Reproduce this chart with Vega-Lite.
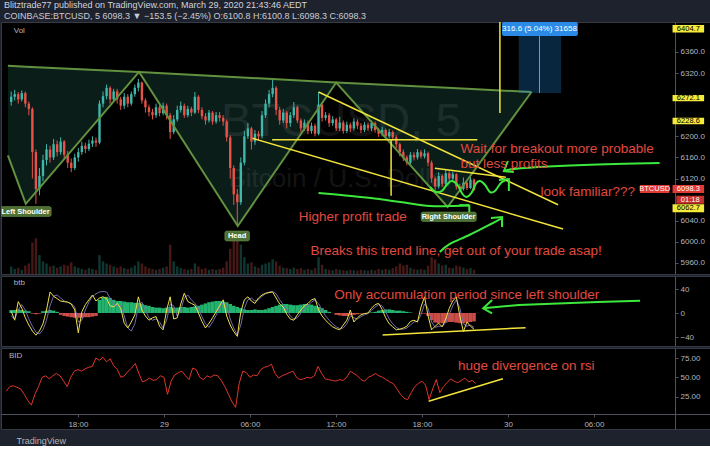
{
  "$schema": "https://vega.github.io/schema/vega-lite/v6.json",
  "background": "#1e222d",
  "padding": {"left": 0, "top": 0, "right": 0, "bottom": 0},
  "spacing": 0,
  "title": {
    "text": "Blitztrade77 published on TradingView.com, March 29, 2020 21:43:46 AEDT",
    "subtitle": "COINBASE:BTCUSD, 5  6098.3 ▼ −153.5 (−2.45%)  O:6100.8  H:6100.8  L:6098.3  C:6098.3",
    "anchor": "start", "frame": "group", "fontSize": 9, "fontWeight": "normal", "color": "#d1d4dc",
    "subtitleFontSize": 9, "subtitleColor": "#c9ccd4", "subtitlePadding": 2, "offset": 0, "dx": 3,
    "font": "Liberation Sans", "subtitleFont": "Liberation Sans"
  },
  "config": {
    "font": "Liberation Sans",
    "view": {"fill": "#000000", "stroke": "#363a45", "strokeWidth": 1},
    "axisY": {"orient": "right", "offset": -36, "zindex": 0, "title": null, "grid": false, "labelColor": "#b2b5be", "labelFontSize": 8, "labelPadding": 2, "tickSize": 3, "tickColor": "#50535e", "domainColor": "#50535e"}
  },
  "datasets": {
    "bars": [
      {"t":"2020-03-28T13:00Z","o":6265,"c":6275,"h":6285,"l":6258,"v":18,"f":3,"s":-5,"g":5,"r":32},
      {"t":"2020-03-28T13:15Z","o":6275,"c":6280,"h":6288,"l":6268,"v":12,"f":-12,"s":-10,"g":5,"r":38},
      {"t":"2020-03-28T13:30Z","o":6280,"c":6270,"h":6284,"l":6262,"v":15,"f":19,"s":5,"g":6,"r":39},
      {"t":"2020-03-28T13:45Z","o":6270,"c":6282,"h":6287,"l":6266,"v":10,"f":8,"s":14,"g":5,"r":37},
      {"t":"2020-03-28T14:00Z","o":6282,"c":6262,"h":6285,"l":6255,"v":20,"f":-8,"s":5,"g":4,"r":35},
      {"t":"2020-03-28T14:15Z","o":6262,"c":6252,"h":6266,"l":6240,"v":25,"f":-20,"s":-10,"g":3,"r":28},
      {"t":"2020-03-28T14:30Z","o":6252,"c":6170,"h":6255,"l":6120,"v":75,"f":-30,"s":-22,"g":-1,"r":20},
      {"t":"2020-03-28T14:45Z","o":6170,"c":6100,"h":6175,"l":6072,"v":85,"f":-37,"s":-32,"g":-2,"r":14},
      {"t":"2020-03-28T15:00Z","o":6100,"c":6125,"h":6140,"l":6088,"v":45,"f":-30,"s":-35,"g":-1,"r":28},
      {"t":"2020-03-28T15:15Z","o":6125,"c":6155,"h":6165,"l":6115,"v":30,"f":-18,"s":-28,"g":3,"r":38},
      {"t":"2020-03-28T15:30Z","o":6155,"c":6175,"h":6185,"l":6145,"v":25,"f":5,"s":-12,"g":4,"r":50},
      {"t":"2020-03-28T15:45Z","o":6175,"c":6160,"h":6182,"l":6150,"v":18,"f":35,"s":12,"g":5,"r":52},
      {"t":"2020-03-28T16:00Z","o":6160,"c":6185,"h":6195,"l":6155,"v":20,"f":28,"s":28,"g":4,"r":48},
      {"t":"2020-03-28T16:15Z","o":6185,"c":6170,"h":6192,"l":6162,"v":15,"f":24,"s":30,"g":2,"r":52},
      {"t":"2020-03-28T16:30Z","o":6170,"c":6190,"h":6198,"l":6165,"v":18,"f":20,"s":25,"g":-3,"r":55},
      {"t":"2020-03-28T16:45Z","o":6190,"c":6165,"h":6193,"l":6158,"v":22,"f":19,"s":20,"g":-5,"r":52},
      {"t":"2020-03-28T17:00Z","o":6165,"c":6150,"h":6172,"l":6140,"v":20,"f":18,"s":18,"g":-6,"r":45},
      {"t":"2020-03-28T17:15Z","o":6150,"c":6140,"h":6158,"l":6132,"v":28,"f":15,"s":16,"g":-7,"r":38},
      {"t":"2020-03-28T17:30Z","o":6140,"c":6160,"h":6167,"l":6136,"v":18,"f":5,"s":10,"g":-8,"r":50},
      {"t":"2020-03-28T17:45Z","o":6160,"c":6170,"h":6178,"l":6152,"v":15,"f":-33,"s":-15,"g":-8,"r":58},
      {"t":"2020-03-28T18:00Z","o":6170,"c":6182,"h":6190,"l":6165,"v":12,"f":2,"s":-12,"g":-8,"r":60},
      {"t":"2020-03-28T18:15Z","o":6182,"c":6176,"h":6188,"l":6168,"v":10,"f":14,"s":5,"g":-7,"r":58},
      {"t":"2020-03-28T18:30Z","o":6176,"c":6186,"h":6194,"l":6172,"v":14,"f":22,"s":18,"g":-7,"r":61},
      {"t":"2020-03-28T18:45Z","o":6186,"c":6192,"h":6200,"l":6180,"v":12,"f":30,"s":28,"g":-6,"r":63},
      {"t":"2020-03-28T19:00Z","o":6192,"c":6188,"h":6198,"l":6180,"v":10,"f":20,"s":32,"g":-5,"r":64},
      {"t":"2020-03-28T19:15Z","o":6188,"c":6262,"h":6268,"l":6185,"v":45,"f":25,"s":35,"g":22,"r":75},
      {"t":"2020-03-28T19:30Z","o":6262,"c":6276,"h":6285,"l":6255,"v":30,"f":27,"s":36,"g":26,"r":72},
      {"t":"2020-03-28T19:45Z","o":6276,"c":6292,"h":6298,"l":6270,"v":25,"f":24,"s":35,"g":27,"r":76},
      {"t":"2020-03-28T20:00Z","o":6292,"c":6270,"h":6295,"l":6262,"v":22,"f":12,"s":25,"g":25,"r":70},
      {"t":"2020-03-28T20:15Z","o":6270,"c":6285,"h":6290,"l":6265,"v":18,"f":10,"s":15,"g":22,"r":74},
      {"t":"2020-03-28T20:30Z","o":6285,"c":6270,"h":6290,"l":6262,"v":15,"f":16,"s":12,"g":20,"r":65},
      {"t":"2020-03-28T20:45Z","o":6270,"c":6258,"h":6275,"l":6250,"v":18,"f":8,"s":12,"g":20,"r":60},
      {"t":"2020-03-28T21:00Z","o":6258,"c":6275,"h":6282,"l":6252,"v":14,"f":-17,"s":-5,"g":19,"r":50},
      {"t":"2020-03-28T21:15Z","o":6275,"c":6262,"h":6280,"l":6255,"v":12,"f":-25,"s":-25,"g":18,"r":52},
      {"t":"2020-03-28T21:30Z","o":6262,"c":6280,"h":6285,"l":6258,"v":15,"f":-15,"s":-30,"g":18,"r":58},
      {"t":"2020-03-28T21:45Z","o":6280,"c":6292,"h":6298,"l":6275,"v":20,"f":-3,"s":-18,"g":17,"r":62},
      {"t":"2020-03-28T22:00Z","o":6292,"c":6302,"h":6309,"l":6285,"v":30,"f":27,"s":10,"g":17,"r":68},
      {"t":"2020-03-28T22:15Z","o":6302,"c":6268,"h":6304,"l":6262,"v":25,"f":5,"s":18,"g":15,"r":55},
      {"t":"2020-03-28T22:30Z","o":6268,"c":6255,"h":6272,"l":6245,"v":18,"f":-5,"s":5,"g":13,"r":44},
      {"t":"2020-03-28T22:45Z","o":6255,"c":6246,"h":6260,"l":6238,"v":14,"f":-12,"s":-8,"g":12,"r":46},
      {"t":"2020-03-28T23:00Z","o":6246,"c":6240,"h":6252,"l":6232,"v":12,"f":-8,"s":-12,"g":10,"r":49},
      {"t":"2020-03-28T23:15Z","o":6240,"c":6255,"h":6262,"l":6235,"v":10,"f":-6,"s":-10,"g":9,"r":46},
      {"t":"2020-03-28T23:30Z","o":6255,"c":6244,"h":6260,"l":6238,"v":12,"f":-22,"s":-15,"g":9,"r":47},
      {"t":"2020-03-28T23:45Z","o":6244,"c":6258,"h":6264,"l":6240,"v":15,"f":-28,"s":-25,"g":8,"r":52},
      {"t":"2020-03-29T00:00Z","o":6258,"c":6240,"h":6262,"l":6232,"v":18,"f":5,"s":-12,"g":9,"r":50},
      {"t":"2020-03-29T00:15Z","o":6240,"c":6208,"h":6244,"l":6195,"v":70,"f":27,"s":15,"g":10,"r":28},
      {"t":"2020-03-29T00:30Z","o":6208,"c":6232,"h":6240,"l":6204,"v":30,"f":-10,"s":12,"g":9,"r":45},
      {"t":"2020-03-29T00:45Z","o":6232,"c":6250,"h":6258,"l":6228,"v":18,"f":-8,"s":-5,"g":9,"r":53},
      {"t":"2020-03-29T01:00Z","o":6250,"c":6258,"h":6266,"l":6245,"v":14,"f":15,"s":5,"g":10,"r":56},
      {"t":"2020-03-29T01:15Z","o":6258,"c":6240,"h":6262,"l":6235,"v":12,"f":33,"s":25,"g":10,"r":58},
      {"t":"2020-03-29T01:30Z","o":6240,"c":6252,"h":6258,"l":6236,"v":10,"f":19,"s":30,"g":9,"r":52},
      {"t":"2020-03-29T01:45Z","o":6252,"c":6245,"h":6256,"l":6238,"v":12,"f":16,"s":22,"g":10,"r":47},
      {"t":"2020-03-29T02:00Z","o":6245,"c":6275,"h":6284,"l":6242,"v":25,"f":13,"s":16,"g":11,"r":62},
      {"t":"2020-03-29T02:15Z","o":6275,"c":6250,"h":6278,"l":6244,"v":18,"f":0,"s":8,"g":12,"r":60},
      {"t":"2020-03-29T02:30Z","o":6250,"c":6238,"h":6255,"l":6232,"v":12,"f":-14,"s":-6,"g":14,"r":50},
      {"t":"2020-03-29T02:45Z","o":6238,"c":6230,"h":6244,"l":6222,"v":14,"f":-25,"s":-18,"g":16,"r":47},
      {"t":"2020-03-29T03:00Z","o":6230,"c":6245,"h":6250,"l":6226,"v":10,"f":-17,"s":-24,"g":18,"r":52},
      {"t":"2020-03-29T03:15Z","o":6245,"c":6228,"h":6248,"l":6222,"v":12,"f":-8,"s":-15,"g":19,"r":50},
      {"t":"2020-03-29T03:30Z","o":6228,"c":6240,"h":6246,"l":6224,"v":10,"f":2,"s":-4,"g":20,"r":53},
      {"t":"2020-03-29T03:45Z","o":6240,"c":6235,"h":6246,"l":6228,"v":12,"f":12,"s":8,"g":20,"r":52},
      {"t":"2020-03-29T04:00Z","o":6235,"c":6228,"h":6240,"l":6220,"v":15,"f":22,"s":18,"g":19,"r":46},
      {"t":"2020-03-29T04:15Z","o":6228,"c":6198,"h":6232,"l":6190,"v":30,"f":-5,"s":12,"g":18,"r":38},
      {"t":"2020-03-29T04:30Z","o":6198,"c":6140,"h":6202,"l":6120,"v":60,"f":-20,"s":-10,"g":15,"r":28},
      {"t":"2020-03-29T04:45Z","o":6140,"c":6090,"h":6145,"l":6070,"v":90,"f":-31,"s":-25,"g":12,"r":18},
      {"t":"2020-03-29T05:00Z","o":6090,"c":6075,"h":6100,"l":6030,"v":100,"f":-39,"s":-37,"g":10,"r":11},
      {"t":"2020-03-29T05:15Z","o":6075,"c":6150,"h":6160,"l":6070,"v":70,"f":2,"s":-20,"g":8,"r":42},
      {"t":"2020-03-29T05:30Z","o":6150,"c":6200,"h":6210,"l":6145,"v":40,"f":22,"s":8,"g":6,"r":58},
      {"t":"2020-03-29T05:45Z","o":6200,"c":6215,"h":6225,"l":6195,"v":25,"f":27,"s":22,"g":5,"r":56},
      {"t":"2020-03-29T06:00Z","o":6215,"c":6190,"h":6218,"l":6175,"v":28,"f":20,"s":25,"g":5,"r":50},
      {"t":"2020-03-29T06:15Z","o":6190,"c":6205,"h":6212,"l":6184,"v":18,"f":16,"s":20,"g":6,"r":53},
      {"t":"2020-03-29T06:30Z","o":6205,"c":6200,"h":6210,"l":6192,"v":15,"f":25,"s":22,"g":5,"r":52},
      {"t":"2020-03-29T06:45Z","o":6200,"c":6240,"h":6248,"l":6196,"v":22,"f":30,"s":28,"g":5,"r":60},
      {"t":"2020-03-29T07:00Z","o":6240,"c":6262,"h":6270,"l":6235,"v":25,"f":33,"s":32,"g":6,"r":63},
      {"t":"2020-03-29T07:15Z","o":6262,"c":6280,"h":6288,"l":6255,"v":28,"f":34,"s":35,"g":8,"r":64},
      {"t":"2020-03-29T07:30Z","o":6280,"c":6292,"h":6307,"l":6274,"v":35,"f":35,"s":36,"g":10,"r":67},
      {"t":"2020-03-29T07:45Z","o":6292,"c":6250,"h":6295,"l":6240,"v":30,"f":25,"s":32,"g":12,"r":55},
      {"t":"2020-03-29T08:00Z","o":6250,"c":6230,"h":6256,"l":6222,"v":20,"f":15,"s":22,"g":14,"r":49},
      {"t":"2020-03-29T08:15Z","o":6230,"c":6245,"h":6252,"l":6225,"v":15,"f":10,"s":14,"g":15,"r":52},
      {"t":"2020-03-29T08:30Z","o":6245,"c":6225,"h":6248,"l":6215,"v":14,"f":-2,"s":5,"g":15,"r":54},
      {"t":"2020-03-29T08:45Z","o":6225,"c":6240,"h":6246,"l":6218,"v":12,"f":-10,"s":-5,"g":14,"r":56},
      {"t":"2020-03-29T09:00Z","o":6240,"c":6255,"h":6265,"l":6235,"v":15,"f":-12,"s":-10,"g":13,"r":58},
      {"t":"2020-03-29T09:15Z","o":6255,"c":6230,"h":6258,"l":6225,"v":12,"f":-3,"s":-8,"g":13,"r":50},
      {"t":"2020-03-29T09:30Z","o":6230,"c":6215,"h":6234,"l":6208,"v":14,"f":5,"s":0,"g":14,"r":47},
      {"t":"2020-03-29T09:45Z","o":6215,"c":6226,"h":6232,"l":6210,"v":10,"f":12,"s":8,"g":15,"r":48},
      {"t":"2020-03-29T10:00Z","o":6226,"c":6210,"h":6230,"l":6204,"v":12,"f":16,"s":13,"g":15,"r":50},
      {"t":"2020-03-29T10:15Z","o":6210,"c":6220,"h":6226,"l":6205,"v":10,"f":22,"s":18,"g":14,"r":49},
      {"t":"2020-03-29T10:30Z","o":6220,"c":6205,"h":6224,"l":6200,"v":14,"f":24,"s":22,"g":12,"r":52},
      {"t":"2020-03-29T10:45Z","o":6205,"c":6260,"h":6284,"l":6202,"v":40,"f":5,"s":16,"g":10,"r":64},
      {"t":"2020-03-29T11:00Z","o":6260,"c":6235,"h":6264,"l":6228,"v":22,"f":-5,"s":5,"g":8,"r":55},
      {"t":"2020-03-29T11:15Z","o":6235,"c":6240,"h":6246,"l":6230,"v":12,"f":-12,"s":-5,"g":5,"r":48},
      {"t":"2020-03-29T11:30Z","o":6240,"c":6225,"h":6244,"l":6218,"v":10,"f":-18,"s":-12,"g":2,"r":47},
      {"t":"2020-03-29T11:45Z","o":6225,"c":6232,"h":6238,"l":6220,"v":9,"f":-23,"s":-18,"g":0,"r":46},
      {"t":"2020-03-29T12:00Z","o":6232,"c":6215,"h":6235,"l":6210,"v":12,"f":-26,"s":-23,"g":-3,"r":45},
      {"t":"2020-03-29T12:15Z","o":6215,"c":6226,"h":6237,"l":6210,"v":10,"f":-28,"s":-26,"g":-4,"r":47},
      {"t":"2020-03-29T12:30Z","o":6226,"c":6210,"h":6230,"l":6205,"v":9,"f":-20,"s":-25,"g":-5,"r":46},
      {"t":"2020-03-29T12:45Z","o":6210,"c":6222,"h":6228,"l":6206,"v":8,"f":-12,"s":-18,"g":-5,"r":50},
      {"t":"2020-03-29T13:00Z","o":6222,"c":6215,"h":6226,"l":6208,"v":10,"f":5,"s":-5,"g":-4,"r":58},
      {"t":"2020-03-29T13:15Z","o":6215,"c":6228,"h":6234,"l":6211,"v":9,"f":-15,"s":-8,"g":-3,"r":55},
      {"t":"2020-03-29T13:30Z","o":6228,"c":6220,"h":6232,"l":6214,"v":8,"f":-8,"s":-10,"g":-2,"r":52},
      {"t":"2020-03-29T13:45Z","o":6220,"c":6212,"h":6225,"l":6206,"v":10,"f":-3,"s":-6,"g":-1,"r":47},
      {"t":"2020-03-29T14:00Z","o":6212,"c":6222,"h":6227,"l":6208,"v":9,"f":-1,"s":-3,"g":-1,"r":45},
      {"t":"2020-03-29T14:15Z","o":6222,"c":6215,"h":6226,"l":6210,"v":8,"f":0,"s":-1,"g":0,"r":50},
      {"t":"2020-03-29T14:30Z","o":6215,"c":6225,"h":6230,"l":6210,"v":10,"f":8,"s":4,"g":1,"r":52},
      {"t":"2020-03-29T14:45Z","o":6225,"c":6212,"h":6228,"l":6207,"v":9,"f":14,"s":10,"g":2,"r":55},
      {"t":"2020-03-29T15:00Z","o":6212,"c":6205,"h":6216,"l":6199,"v":12,"f":16,"s":14,"g":4,"r":52},
      {"t":"2020-03-29T15:15Z","o":6205,"c":6212,"h":6218,"l":6200,"v":10,"f":6,"s":12,"g":5,"r":50},
      {"t":"2020-03-29T15:30Z","o":6212,"c":6200,"h":6215,"l":6195,"v":12,"f":-8,"s":2,"g":6,"r":47},
      {"t":"2020-03-29T15:45Z","o":6200,"c":6208,"h":6214,"l":6196,"v":10,"f":-18,"s":-10,"g":6,"r":44},
      {"t":"2020-03-29T16:00Z","o":6208,"c":6198,"h":6211,"l":6192,"v":14,"f":-23,"s":-18,"g":5,"r":42},
      {"t":"2020-03-29T16:15Z","o":6198,"c":6185,"h":6202,"l":6178,"v":18,"f":-28,"s":-24,"g":4,"r":35},
      {"t":"2020-03-29T16:30Z","o":6185,"c":6170,"h":6188,"l":6162,"v":25,"f":-27,"s":-27,"g":4,"r":28},
      {"t":"2020-03-29T16:45Z","o":6170,"c":6160,"h":6175,"l":6153,"v":20,"f":-25,"s":-27,"g":3,"r":23},
      {"t":"2020-03-29T17:00Z","o":6160,"c":6150,"h":6164,"l":6145,"v":22,"f":-22,"s":-25,"g":2,"r":21},
      {"t":"2020-03-29T17:15Z","o":6150,"c":6165,"h":6170,"l":6147,"v":15,"f":-14,"s":-20,"g":1,"r":30},
      {"t":"2020-03-29T17:30Z","o":6165,"c":6160,"h":6170,"l":6154,"v":12,"f":-12,"s":-15,"g":0,"r":38},
      {"t":"2020-03-29T17:45Z","o":6160,"c":6170,"h":6176,"l":6156,"v":10,"f":-15,"s":-14,"g":0,"r":42},
      {"t":"2020-03-29T18:00Z","o":6170,"c":6162,"h":6174,"l":6158,"v":12,"f":10,"s":-3,"g":-1,"r":45},
      {"t":"2020-03-29T18:15Z","o":6162,"c":6168,"h":6175,"l":6158,"v":10,"f":27,"s":15,"g":-1,"r":40},
      {"t":"2020-03-29T18:30Z","o":6168,"c":6150,"h":6171,"l":6143,"v":20,"f":-5,"s":8,"g":-5,"r":21},
      {"t":"2020-03-29T18:45Z","o":6150,"c":6120,"h":6154,"l":6112,"v":40,"f":-28,"s":-15,"g":-12,"r":35},
      {"t":"2020-03-29T19:00Z","o":6120,"c":6105,"h":6124,"l":6097,"v":35,"f":-22,"s":-24,"g":-16,"r":47},
      {"t":"2020-03-29T19:15Z","o":6105,"c":6125,"h":6132,"l":6101,"v":25,"f":-17,"s":-22,"g":-17,"r":30},
      {"t":"2020-03-29T19:30Z","o":6125,"c":6110,"h":6128,"l":6104,"v":20,"f":-23,"s":-22,"g":-17,"r":38},
      {"t":"2020-03-29T19:45Z","o":6110,"c":6130,"h":6138,"l":6106,"v":22,"f":-10,"s":-16,"g":-16,"r":43},
      {"t":"2020-03-29T20:00Z","o":6130,"c":6120,"h":6134,"l":6114,"v":15,"f":8,"s":-2,"g":-15,"r":48},
      {"t":"2020-03-29T20:15Z","o":6120,"c":6128,"h":6133,"l":6116,"v":14,"f":20,"s":12,"g":-15,"r":45},
      {"t":"2020-03-29T20:30Z","o":6128,"c":6105,"h":6130,"l":6099,"v":20,"f":27,"s":22,"g":-16,"r":43},
      {"t":"2020-03-29T20:45Z","o":6105,"c":6100,"h":6110,"l":6095,"v":18,"f":-5,"s":8,"g":-17,"r":46},
      {"t":"2020-03-29T21:00Z","o":6100,"c":6112,"h":6122,"l":6097,"v":15,"f":-31,"s":-18,"g":-17,"r":49},
      {"t":"2020-03-29T21:15Z","o":6112,"c":6102,"h":6116,"l":6098,"v":12,"f":-15,"s":-22,"g":-16,"r":44},
      {"t":"2020-03-29T21:30Z","o":6102,"c":6118,"h":6123,"l":6100,"v":14,"f":-22,"s":-20,"g":-15,"r":46},
      {"t":"2020-03-29T21:45Z","o":6118,"c":6098.3,"h":6120,"l":6096,"v":10,"f":-27,"s":-24,"g":-14,"r":42}
    ],
    "hs": [
      {"t":"2020-03-28T12:46Z","p":6164,"p2":6334},
      {"t":"2020-03-28T14:02Z","p":6072,"p2":6332},
      {"t":"2020-03-28T22:03Z","p":6322,"p2":6322},
      {"t":"2020-03-29T05:02Z","p":6030,"p2":6312},
      {"t":"2020-03-29T12:00Z","p":6302,"p2":6302},
      {"t":"2020-03-29T19:53Z","p":6066,"p2":6292},
      {"t":"2020-03-30T01:49Z","p":6284,"p2":6284}
    ]
  },
  "vconcat": [
    {
      "width": 710, "height": 252,
      "encoding": {"x": {"field": "t", "type": "temporal", "scale": {"type": "utc", "domain": [1585399080000, 1585577400000], "nice": false}, "axis": null}},
      "resolve": {"scale": {"y": "independent"}, "axis": {"y": "independent"}},
      "layer": [
        {
          "data": {"name": "bars"},
          "mark": {"type": "bar", "size": 2.4, "opacity": 0.35},
          "encoding": {
            "y": {"field": "v", "type": "quantitative", "scale": {"domain": [0, 600], "nice": false}, "axis": null},
            "color": {"condition": {"test": "datum.c >= datum.o", "value": "#2a9d90"}, "value": "#c8463f"}
          }
        },
        {
          "layer": [
            {
              "data": {"name": "hs"},
              "mark": {"type": "area", "color": "#2a7a6a", "opacity": 0.24},
              "encoding": {
                "y": {"field": "p", "type": "quantitative", "scale": {"domain": [5939, 6416.7], "nice": false, "zero": false},
                  "axis": {"values": [5960, 6000, 6040, 6120, 6160, 6200, 6320, 6360], "format": ".1f"}},
                "y2": {"field": "p2"}
              }
            },
            {
              "data": {"values": [{"t": "2020-03-29T12:21Z", "p": 6227, "txt": "BTCUSD, 5"}], "format": {"parse": {"t": "date"}}},
              "mark": {"type": "text", "fontSize": 46, "color": "#ffffff", "opacity": 0.07, "align": "center", "baseline": "middle"},
              "encoding": {"y": {"field": "p", "type": "quantitative", "scale": {"domain": [5939, 6416.7], "nice": false, "zero": false}, "axis": {"values": [5960, 6000, 6040, 6120, 6160, 6200, 6320, 6360], "format": ".1f"}}, "text": {"field": "txt"}}
            },
            {
              "data": {"values": [{"t": "2020-03-29T12:21Z", "p": 6119, "txt": "Bitcoin / U.S. Dollar"}], "format": {"parse": {"t": "date"}}},
              "mark": {"type": "text", "fontSize": 26, "color": "#ffffff", "opacity": 0.07, "align": "center", "baseline": "middle"},
              "encoding": {"y": {"field": "p", "type": "quantitative", "scale": {"domain": [5939, 6416.7], "nice": false, "zero": false}, "axis": {"values": [5960, 6000, 6040, 6120, 6160, 6200, 6320, 6360], "format": ".1f"}}, "text": {"field": "txt"}}
            },
            {
              "data": {"values": [
                {"p": 6404.7, "k": "y"}, {"p": 6329, "k": "g"}, {"p": 6272.1, "k": "y"}, {"p": 6255, "k": "r"},
                {"p": 6228.6, "k": "y"}, {"p": 6176, "k": "t"}, {"p": 6124, "k": "m"}, {"p": 6062.7, "k": "y"}, {"p": 5958, "k": "b"}
              ]},
              "mark": {"type": "rule", "strokeWidth": 1},
              "encoding": {
                "x": {"datum": {"year": 2020, "month": 3, "date": 28, "hours": 12, "minutes": 38, "utc": true}, "type": "temporal", "axis": null},
                "x2": {"datum": {"year": 2020, "month": 3, "date": 30, "hours": 11, "minutes": 39, "utc": true}},
                "y": {"field": "p", "type": "quantitative", "scale": {"domain": [5939, 6416.7], "nice": false, "zero": false}, "axis": {"values": [5960, 6000, 6040, 6120, 6160, 6200, 6320, 6360], "format": ".1f"}},
                "color": {"field": "k", "type": "nominal", "scale": {"domain": ["y", "g", "r", "t", "m", "b"], "range": ["#9c9a36", "#4f7d4b", "#7c2f2f", "#2f6c66", "#6b3b6b", "#3f6286"]}, "legend": null}
              }
            },
            {
              "data": {"values": [{"p": 6098.3}]},
              "mark": {"type": "rule", "color": "#d84a40", "strokeDash": [1, 2], "strokeWidth": 1},
              "encoding": {
                "x": {"datum": {"year": 2020, "month": 3, "date": 28, "hours": 12, "minutes": 38, "utc": true}, "type": "temporal", "axis": null},
                "x2": {"datum": {"year": 2020, "month": 3, "date": 30, "hours": 11, "minutes": 39, "utc": true}},
                "y": {"field": "p", "type": "quantitative", "scale": {"domain": [5939, 6416.7], "nice": false, "zero": false}, "axis": {"values": [5960, 6000, 6040, 6120, 6160, 6200, 6320, 6360], "format": ".1f"}}
              }
            },
            {
              "data": {"name": "bars"},
              "mark": {"type": "rule", "strokeWidth": 1},
              "encoding": {
                "y": {"field": "l", "type": "quantitative", "scale": {"domain": [5939, 6416.7], "nice": false, "zero": false}, "axis": {"values": [5960, 6000, 6040, 6120, 6160, 6200, 6320, 6360], "format": ".1f"}},
                "y2": {"field": "h"},
                "color": {"condition": {"test": "datum.c >= datum.o", "value": "#3fb8aa"}, "value": "#e8524a"}
              }
            },
            {
              "data": {"name": "bars"},
              "mark": {"type": "bar", "size": 2.4},
              "encoding": {
                "y": {"field": "o", "type": "quantitative", "scale": {"domain": [5939, 6416.7], "nice": false, "zero": false}, "axis": {"values": [5960, 6000, 6040, 6120, 6160, 6200, 6320, 6360], "format": ".1f"}},
                "y2": {"field": "c"},
                "color": {"condition": {"test": "datum.c >= datum.o", "value": "#3fb8aa"}, "value": "#e8524a"}
              }
            },
            {
              "data": {"name": "hs"},
              "mark": {"type": "line", "color": "#62913f", "strokeWidth": 2},
              "encoding": {"y": {"field": "p", "type": "quantitative", "scale": {"domain": [5939, 6416.7], "nice": false, "zero": false}, "axis": {"values": [5960, 6000, 6040, 6120, 6160, 6200, 6320, 6360], "format": ".1f"}}}
            },
            {
              "data": {"name": "hs"},
              "mark": {"type": "line", "color": "#62913f", "strokeWidth": 2},
              "encoding": {"y": {"field": "p2", "type": "quantitative", "scale": {"domain": [5939, 6416.7], "nice": false, "zero": false}, "axis": {"values": [5960, 6000, 6040, 6120, 6160, 6200, 6320, 6360], "format": ".1f"}}}
            },
            {
              "data": {"values": [
                {"t": "2020-03-29T07:28Z", "t2": "2020-03-29T21:59Z", "p": 6193.6, "p2": 6193.6},
                {"t": "2020-03-29T10:45Z", "t2": "2020-03-30T03:42Z", "p": 6284, "p2": 6070.3},
                {"t": "2020-03-29T06:04Z", "t2": "2020-03-30T04:03Z", "p": 6196.2, "p2": 6024.3},
                {"t": "2020-03-29T15:53Z", "t2": "2020-03-29T15:53Z", "p": 6193.6, "p2": 6087.4},
                {"t": "2020-03-29T23:35Z", "t2": "2020-03-29T23:35Z", "p": 6416.7, "p2": 6244.2},
                {"t": "2020-03-29T18:59Z", "t2": "2020-03-30T00:00Z", "p": 6139.3, "p2": 6122.3}
              ], "format": {"parse": {"t": "date", "t2": "date"}}},
              "mark": {"type": "rule", "color": "#f2e43a", "strokeWidth": 1.5},
              "encoding": {
                "x2": {"field": "t2"},
                "y": {"field": "p", "type": "quantitative", "scale": {"domain": [5939, 6416.7], "nice": false, "zero": false}, "axis": {"values": [5960, 6000, 6040, 6120, 6160, 6200, 6320, 6360], "format": ".1f"}},
                "y2": {"field": "p2"}
              }
            },
            {
              "data": {"values": [{"t1": "2020-03-30T00:55Z", "t2": "2020-03-30T03:55Z", "p": 6282.1, "p2": 6416.7}], "format": {"parse": {"t1": "date", "t2": "date"}}},
              "mark": {"type": "rect", "color": "#2196f3", "opacity": 0.25},
              "encoding": {
                "x": {"field": "t1", "type": "temporal", "axis": null}, "x2": {"field": "t2"},
                "y": {"field": "p", "type": "quantitative", "scale": {"domain": [5939, 6416.7], "nice": false, "zero": false}, "axis": {"values": [5960, 6000, 6040, 6120, 6160, 6200, 6320, 6360], "format": ".1f"}},
                "y2": {"field": "p2"}
              }
            },
            {
              "data": {"values": [{"t": "2020-03-30T02:23Z", "p": 6282.1, "p2": 6416.7}], "format": {"parse": {"t": "date"}}},
              "mark": {"type": "rule", "color": "#5aa0e6", "strokeWidth": 1},
              "encoding": {
                "y": {"field": "p", "type": "quantitative", "scale": {"domain": [5939, 6416.7], "nice": false, "zero": false}, "axis": {"values": [5960, 6000, 6040, 6120, 6160, 6200, 6320, 6360], "format": ".1f"}},
                "y2": {"field": "p2"}
              }
            },
            {
              "data": {"values": [{"t1": "2020-03-29T23:44Z", "t2": "2020-03-30T05:06Z", "p": 6390.1, "p2": 6416.7}], "format": {"parse": {"t1": "date", "t2": "date"}}},
              "mark": {"type": "rect", "color": "#2a8ae6", "cornerRadius": 2},
              "encoding": {
                "x": {"field": "t1", "type": "temporal", "axis": null}, "x2": {"field": "t2"},
                "y": {"field": "p", "type": "quantitative", "scale": {"domain": [5939, 6416.7], "nice": false, "zero": false}, "axis": {"values": [5960, 6000, 6040, 6120, 6160, 6200, 6320, 6360], "format": ".1f"}},
                "y2": {"field": "p2"}
              }
            },
            {
              "data": {"values": [{"t": "2020-03-30T02:23Z", "p": 6403.4, "txt": "316.6 (5.04%) 31658"}], "format": {"parse": {"t": "date"}}},
              "mark": {"type": "text", "color": "#ffffff", "fontSize": 8, "align": "center", "baseline": "middle"},
              "encoding": {
                "y": {"field": "p", "type": "quantitative", "scale": {"domain": [5939, 6416.7], "nice": false, "zero": false}, "axis": {"values": [5960, 6000, 6040, 6120, 6160, 6200, 6320, 6360], "format": ".1f"}},
                "text": {"field": "txt"}
              }
            },
            {
              "data": {"values": [
                {"t": "2020-03-30T10:53Z", "p": 6149.4, "id": "a", "n": 1},
                {"t": "2020-03-30T06:30Z", "p": 6146.5, "id": "a", "n": 2},
                {"t": "2020-03-30T03:00Z", "p": 6142.7, "id": "a", "n": 3},
                {"t": "2020-03-30T00:34Z", "p": 6138, "id": "a", "n": 4},
                {"t": "2020-03-29T23:52Z", "p": 6134.2, "id": "a", "n": 5},
                {"t": "2020-03-29T18:38Z", "p": 6103.9, "id": "w", "n": 1},
                {"t": "2020-03-29T19:03Z", "p": 6094.4, "id": "w", "n": 2},
                {"t": "2020-03-29T19:28Z", "p": 6096.3, "id": "w", "n": 3},
                {"t": "2020-03-29T19:49Z", "p": 6107.7, "id": "w", "n": 4},
                {"t": "2020-03-29T20:10Z", "p": 6115.3, "id": "w", "n": 5},
                {"t": "2020-03-29T20:35Z", "p": 6107.7, "id": "w", "n": 6},
                {"t": "2020-03-29T20:56Z", "p": 6090.6, "id": "w", "n": 7},
                {"t": "2020-03-29T21:13Z", "p": 6084.9, "id": "w", "n": 8},
                {"t": "2020-03-29T21:34Z", "p": 6092.5, "id": "w", "n": 9},
                {"t": "2020-03-29T21:55Z", "p": 6111.5, "id": "w", "n": 10},
                {"t": "2020-03-29T22:11Z", "p": 6115.3, "id": "w", "n": 11},
                {"t": "2020-03-29T22:32Z", "p": 6107.7, "id": "w", "n": 12},
                {"t": "2020-03-29T22:53Z", "p": 6094.4, "id": "w", "n": 13},
                {"t": "2020-03-29T23:14Z", "p": 6096.3, "id": "w", "n": 14},
                {"t": "2020-03-29T23:39Z", "p": 6111.5, "id": "w", "n": 15},
                {"t": "2020-03-30T00:00Z", "p": 6117.2, "id": "w", "n": 16},
                {"t": "2020-03-29T10:45Z", "p": 6092.5, "id": "h", "n": 1},
                {"t": "2020-03-29T12:21Z", "p": 6088.7, "id": "h", "n": 2},
                {"t": "2020-03-29T14:27Z", "p": 6083, "id": "h", "n": 3},
                {"t": "2020-03-29T16:32Z", "p": 6075.5, "id": "h", "n": 4},
                {"t": "2020-03-29T18:38Z", "p": 6067.9, "id": "h", "n": 5},
                {"t": "2020-03-29T20:22Z", "p": 6067.9, "id": "h", "n": 6},
                {"t": "2020-03-29T21:25Z", "p": 6069.8, "id": "h", "n": 7},
                {"t": "2020-03-29T19:20Z", "p": 5980.7, "id": "b", "n": 1},
                {"t": "2020-03-29T20:01Z", "p": 5995.8, "id": "b", "n": 2},
                {"t": "2020-03-29T21:25Z", "p": 6012.9, "id": "b", "n": 3},
                {"t": "2020-03-29T22:49Z", "p": 6031.9, "id": "b", "n": 4},
                {"t": "2020-03-29T23:44Z", "p": 6045.1, "id": "b", "n": 5}
              ], "format": {"parse": {"t": "date"}}},
              "mark": {"type": "line", "color": "#3be83b", "strokeWidth": 2, "interpolate": "cardinal"},
              "encoding": {
                "y": {"field": "p", "type": "quantitative", "scale": {"domain": [5939, 6416.7], "nice": false, "zero": false}, "axis": {"values": [5960, 6000, 6040, 6120, 6160, 6200, 6320, 6360], "format": ".1f"}},
                "detail": {"field": "id"},
                "order": {"field": "n", "type": "quantitative"}
              }
            },
            {
              "data": {"values": [
                {"t": "2020-03-30T00:09Z", "p": 6153.2, "id": "a2", "n": 1},
                {"t": "2020-03-29T23:52Z", "p": 6134.2, "id": "a2", "n": 2},
                {"t": "2020-03-30T00:34Z", "p": 6132.3, "id": "a2", "n": 3},
                {"t": "2020-03-29T23:31Z", "p": 6117.2, "id": "w2", "n": 1},
                {"t": "2020-03-30T00:13Z", "p": 6119, "id": "w2", "n": 2},
                {"t": "2020-03-30T00:13Z", "p": 6096.3, "id": "w2", "n": 3},
                {"t": "2020-03-29T20:43Z", "p": 6069.8, "id": "h2", "n": 1},
                {"t": "2020-03-29T21:25Z", "p": 6068.5, "id": "h2", "n": 2},
                {"t": "2020-03-29T21:25Z", "p": 6056.5, "id": "h2", "n": 3},
                {"t": "2020-03-29T22:57Z", "p": 6045.1, "id": "b2", "n": 1},
                {"t": "2020-03-29T23:44Z", "p": 6047, "id": "b2", "n": 2},
                {"t": "2020-03-29T23:44Z", "p": 6028.1, "id": "b2", "n": 3}
              ], "format": {"parse": {"t": "date"}}},
              "mark": {"type": "line", "color": "#3be83b", "strokeWidth": 2},
              "encoding": {
                "y": {"field": "p", "type": "quantitative", "scale": {"domain": [5939, 6416.7], "nice": false, "zero": false}, "axis": {"values": [5960, 6000, 6040, 6120, 6160, 6200, 6320, 6360], "format": ".1f"}},
                "detail": {"field": "id"},
                "order": {"field": "n", "type": "quantitative"}
              }
            },
            {
              "data": {"values": [
                {"t": "2020-03-29T20:48Z", "p": 6175.5, "txt": "Wait for breakout more probable"},
                {"t": "2020-03-29T20:48Z", "p": 6147.5, "txt": "but less profits"},
                {"t": "2020-03-30T02:27Z", "p": 6093.8, "txt": "look familiar???"},
                {"t": "2020-03-29T09:21Z", "p": 6047, "txt": "Higher profit trade"},
                {"t": "2020-03-29T10:11Z", "p": 5983.1, "txt": "Breaks this trend line, get out of your trade asap!"}
              ], "format": {"parse": {"t": "date"}}},
              "mark": {"type": "text", "color": "#e04a3f", "fontSize": 13.5, "align": "left", "baseline": "middle"},
              "encoding": {
                "y": {"field": "p", "type": "quantitative", "scale": {"domain": [5939, 6416.7], "nice": false, "zero": false}, "axis": {"values": [5960, 6000, 6040, 6120, 6160, 6200, 6320, 6360], "format": ".1f"}},
                "text": {"field": "txt"}
              }
            },
            {
              "data": {"values": [
                {"t1": "2020-03-28T12:16Z", "t2": "2020-03-28T15:50Z", "p1": 6047.9, "p2": 6066.9},
                {"t1": "2020-03-29T04:07Z", "t2": "2020-03-29T05:52Z", "p1": 6001.5, "p2": 6020.5},
                {"t1": "2020-03-29T18:00Z", "t2": "2020-03-29T21:55Z", "p1": 6038.5, "p2": 6056.5}
              ], "format": {"parse": {"t1": "date", "t2": "date"}}},
              "mark": {"type": "rect", "color": "#4d7033", "stroke": "#6f9a4c", "strokeWidth": 0.5, "cornerRadius": 2, "clip": true},
              "encoding": {
                "x": {"field": "t1", "type": "temporal", "axis": null}, "x2": {"field": "t2"},
                "y": {"field": "p1", "type": "quantitative", "scale": {"domain": [5939, 6416.7], "nice": false, "zero": false}, "axis": {"values": [5960, 6000, 6040, 6120, 6160, 6200, 6320, 6360], "format": ".1f"}},
                "y2": {"field": "p2"}
              }
            },
            {
              "data": {"values": [
                {"t": "2020-03-28T14:01Z", "p": 6057.4, "txt": "Left Shoulder"},
                {"t": "2020-03-29T04:59Z", "p": 6011, "txt": "Head"},
                {"t": "2020-03-29T19:57Z", "p": 6047.4, "txt": "Right Shoulder"}
              ], "format": {"parse": {"t": "date"}}},
              "mark": {"type": "text", "color": "#ffffff", "fontSize": 7.5, "fontWeight": "bold", "align": "center", "baseline": "middle", "clip": true},
              "encoding": {
                "y": {"field": "p", "type": "quantitative", "scale": {"domain": [5939, 6416.7], "nice": false, "zero": false}, "axis": {"values": [5960, 6000, 6040, 6120, 6160, 6200, 6320, 6360], "format": ".1f"}},
                "text": {"field": "txt"}
              }
            },
            {
              "data": {"values": [{"t": "2020-03-28T13:11Z", "p": 6399.6, "txt": "Vol"}], "format": {"parse": {"t": "date"}}},
              "mark": {"type": "text", "color": "#b2b5be", "fontSize": 8, "align": "left", "baseline": "middle"},
              "encoding": {
                "y": {"field": "p", "type": "quantitative", "scale": {"domain": [5939, 6416.7], "nice": false, "zero": false}, "axis": {"values": [5960, 6000, 6040, 6120, 6160, 6200, 6320, 6360], "format": ".1f"}},
                "text": {"field": "txt"}
              }
            },
            {
              "data": {"values": [
                {"t1": "2020-03-30T11:48Z", "t2": "2020-03-30T14:02Z", "p1": 6397, "p2": 6411, "k": "y"},
                {"t1": "2020-03-30T11:48Z", "t2": "2020-03-30T14:02Z", "p1": 6266.4, "p2": 6278.3, "k": "y"},
                {"t1": "2020-03-30T11:48Z", "t2": "2020-03-30T14:02Z", "p1": 6222.7, "p2": 6235.3, "k": "y"},
                {"t1": "2020-03-30T11:48Z", "t2": "2020-03-30T14:02Z", "p1": 6055.9, "p2": 6071.1, "k": "y"},
                {"t1": "2020-03-30T11:48Z", "t2": "2020-03-30T14:02Z", "p1": 6092.5, "p2": 6107.7, "k": "r"},
                {"t1": "2020-03-30T12:04Z", "t2": "2020-03-30T14:02Z", "p1": 6072.2, "p2": 6087.4, "k": "d"},
                {"t1": "2020-03-30T09:30Z", "t2": "2020-03-30T11:35Z", "p1": 6092.5, "p2": 6107.7, "k": "r"}
              ], "format": {"parse": {"t1": "date", "t2": "date"}}},
              "mark": {"type": "rect"},
              "encoding": {
                "x": {"field": "t1", "type": "temporal", "axis": null}, "x2": {"field": "t2"},
                "y": {"field": "p1", "type": "quantitative", "scale": {"domain": [5939, 6416.7], "nice": false, "zero": false}, "axis": {"values": [5960, 6000, 6040, 6120, 6160, 6200, 6320, 6360], "format": ".1f"}},
                "y2": {"field": "p2"},
                "color": {"condition": [{"test": "datum.k == 'y'", "value": "#f5e93a"}, {"test": "datum.k == 'd'", "value": "#c4302b"}], "value": "#e03a35"}
              }
            },
            {
              "data": {"values": [
                {"t": "2020-03-30T12:55Z", "p": 6404, "txt": "6404.7", "k": "y"},
                {"t": "2020-03-30T12:55Z", "p": 6272.3, "txt": "6272.1", "k": "y"},
                {"t": "2020-03-30T12:55Z", "p": 6229, "txt": "6228.6", "k": "y"},
                {"t": "2020-03-30T12:55Z", "p": 6063.5, "txt": "6062.7", "k": "y"},
                {"t": "2020-03-30T12:55Z", "p": 6100.1, "txt": "6098.3", "k": "r"},
                {"t": "2020-03-30T13:03Z", "p": 6079.8, "txt": "01:18", "k": "r"},
                {"t": "2020-03-30T10:32Z", "p": 6100.1, "txt": "BTCUSD", "k": "r"}
              ], "format": {"parse": {"t": "date"}}},
              "mark": {"type": "text", "fontSize": 7.5, "align": "center", "baseline": "middle"},
              "encoding": {
                "y": {"field": "p", "type": "quantitative", "scale": {"domain": [5939, 6416.7], "nice": false, "zero": false}, "axis": {"values": [5960, 6000, 6040, 6120, 6160, 6200, 6320, 6360], "format": ".1f"}},
                "text": {"field": "txt"},
                "color": {"condition": {"test": "datum.k == 'y'", "value": "#000000"}, "value": "#ffffff"}
              }
            }
          ]
        }
      ]
    },
    {
      "width": 710, "height": 70,
      "encoding": {"x": {"field": "t", "type": "temporal", "scale": {"type": "utc", "domain": [1585399080000, 1585577400000], "nice": false}, "axis": null}},
      "layer": [
        {
          "data": {"values": [{"p": 48, "k": "g"}, {"p": 40, "k": "r"}, {"p": 0, "k": "g"}, {"p": -40, "k": "r"}, {"p": -48, "k": "g"}]},
          "mark": {"type": "rule", "strokeDash": [3, 3], "strokeWidth": 1},
          "encoding": {
            "x": {"datum": {"year": 2020, "month": 3, "date": 28, "hours": 12, "minutes": 38, "utc": true}, "type": "temporal", "axis": null},
            "x2": {"datum": {"year": 2020, "month": 3, "date": 30, "hours": 11, "minutes": 39, "utc": true}},
            "y": {"field": "p", "type": "quantitative", "scale": {"domain": [-55, 61.7], "nice": false, "zero": false}, "axis": {"values": [-40, 0, 40], "format": "d"}},
            "color": {"condition": {"test": "datum.k == 'r'", "value": "#7a3535"}, "value": "#4a4d57"}
          }
        },
        {
          "data": {"name": "bars"},
          "mark": {"type": "bar", "size": 3.6, "opacity": 0.9},
          "encoding": {
            "y": {"field": "g", "type": "quantitative", "scale": {"domain": [-55, 61.7], "nice": false, "zero": false}, "axis": {"values": [-40, 0, 40], "format": "d"}},
            "y2": {"datum": 0},
            "color": {"condition": {"test": "datum.g >= 0", "value": "#27c77a"}, "value": "#e0564f"}
          }
        },
        {
          "data": {"name": "bars"},
          "mark": {"type": "line", "color": "#7469a8", "strokeWidth": 1},
          "encoding": {"y": {"field": "s", "type": "quantitative", "scale": {"domain": [-55, 61.7], "nice": false, "zero": false}, "axis": {"values": [-40, 0, 40], "format": "d"}}}
        },
        {
          "data": {"name": "bars"},
          "mark": {"type": "line", "color": "#efe04a", "strokeWidth": 1},
          "encoding": {"y": {"field": "f", "type": "quantitative", "scale": {"domain": [-55, 61.7], "nice": false, "zero": false}, "axis": {"values": [-40, 0, 40], "format": "d"}}}
        },
        {
          "data": {"values": [{"t": "2020-03-29T15:17Z", "t2": "2020-03-30T01:24Z", "p": -36.7, "p2": -24.5}], "format": {"parse": {"t": "date", "t2": "date"}}},
          "mark": {"type": "rule", "color": "#f2e43a", "strokeWidth": 1.5},
          "encoding": {
            "x2": {"field": "t2"},
            "y": {"field": "p", "type": "quantitative", "scale": {"domain": [-55, 61.7], "nice": false, "zero": false}, "axis": {"values": [-40, 0, 40], "format": "d"}},
            "y2": {"field": "p2"}
          }
        },
        {
          "data": {"values": [
            {"t": "2020-03-30T09:30Z", "p": 20.5, "id": "o", "n": 1},
            {"t": "2020-03-30T06:30Z", "p": 18.3, "id": "o", "n": 2},
            {"t": "2020-03-30T03:42Z", "p": 15.8, "id": "o", "n": 3},
            {"t": "2020-03-30T00:55Z", "p": 13.3, "id": "o", "n": 4},
            {"t": "2020-03-29T22:24Z", "p": 7.8, "id": "o", "n": 5},
            {"t": "2020-03-29T23:02Z", "p": 21.7, "id": "o2", "n": 1},
            {"t": "2020-03-29T22:24Z", "p": 7.8, "id": "o2", "n": 2},
            {"t": "2020-03-29T23:02Z", "p": -0.5, "id": "o2", "n": 3}
          ], "format": {"parse": {"t": "date"}}},
          "mark": {"type": "line", "color": "#3be83b", "strokeWidth": 2},
          "encoding": {
            "y": {"field": "p", "type": "quantitative", "scale": {"domain": [-55, 61.7], "nice": false, "zero": false}, "axis": {"values": [-40, 0, 40], "format": "d"}},
            "detail": {"field": "id"},
            "order": {"field": "n", "type": "quantitative"}
          }
        },
        {
          "data": {"values": [{"t": "2020-03-29T11:52Z", "p": 30, "txt": "Only accumulation period since left shoulder"}], "format": {"parse": {"t": "date"}}},
          "mark": {"type": "text", "color": "#e04a3f", "fontSize": 13.5, "align": "left", "baseline": "middle"},
          "encoding": {
            "y": {"field": "p", "type": "quantitative", "scale": {"domain": [-55, 61.7], "nice": false, "zero": false}, "axis": {"values": [-40, 0, 40], "format": "d"}},
            "text": {"field": "txt"}
          }
        },
        {
          "data": {"values": [{"t": "2020-03-28T13:11Z", "p": 50, "txt": "btb"}], "format": {"parse": {"t": "date"}}},
          "mark": {"type": "text", "color": "#b2b5be", "fontSize": 8, "align": "left", "baseline": "middle"},
          "encoding": {
            "y": {"field": "p", "type": "quantitative", "scale": {"domain": [-55, 61.7], "nice": false, "zero": false}, "axis": {"values": [-40, 0, 40], "format": "d"}},
            "text": {"field": "txt"}
          }
        }
      ]
    },
    {
      "width": 710, "height": 81,
      "encoding": {"x": {"field": "t", "type": "temporal", "scale": {"type": "utc", "domain": [1585399080000, 1585577400000], "nice": false},
        "axis": {"orient": "bottom", "offset": -15,
          "values": [
            {"year": 2020, "month": 3, "date": 28, "hours": 18, "utc": true},
            {"year": 2020, "month": 3, "date": 29, "hours": 0, "utc": true},
            {"year": 2020, "month": 3, "date": 29, "hours": 6, "utc": true},
            {"year": 2020, "month": 3, "date": 29, "hours": 12, "utc": true},
            {"year": 2020, "month": 3, "date": 29, "hours": 18, "utc": true},
            {"year": 2020, "month": 3, "date": 30, "hours": 0, "utc": true},
            {"year": 2020, "month": 3, "date": 30, "hours": 6, "utc": true}
          ],
          "labelExpr": "utchours(datum.value) == 0 ? utcFormat(datum.value, '%-d') : utcFormat(datum.value, '%H:%M')",
          "labelColor": "#b2b5be", "labelFontSize": 8, "labelPadding": 3, "labelFlush": false, "tickSize": 3, "tickColor": "#50535e", "domainColor": "#50535e", "grid": false,
          "title": "TradingView", "titleColor": "#b2b5be", "titleFontSize": 9, "titleFontWeight": "normal", "titleAnchor": "start", "titleAlign": "left", "titleX": 15, "titleY": 26, "titleBaseline": "middle"}}},
      "layer": [
        {
          "data": {"values": [{"p": 80, "k": "r"}, {"p": 50, "k": "g"}, {"p": 20, "k": "n"}]},
          "mark": {"type": "rule", "strokeDash": [3, 3], "strokeWidth": 1},
          "encoding": {
            "x": {"datum": {"year": 2020, "month": 3, "date": 28, "hours": 12, "minutes": 38, "utc": true}, "type": "temporal"},
            "x2": {"datum": {"year": 2020, "month": 3, "date": 30, "hours": 11, "minutes": 39, "utc": true}},
            "y": {"field": "p", "type": "quantitative", "scale": {"domain": [-17, 88], "nice": false, "zero": false}, "axis": {"values": [25, 50, 75], "format": ".2f"}},
            "color": {"condition": [{"test": "datum.k == 'r'", "value": "#7a3535"}, {"test": "datum.k == 'n'", "value": "#3d5e45"}], "value": "#4a4d57"}
          }
        },
        {
          "data": {"name": "bars"},
          "mark": {"type": "line", "color": "#e0352b", "strokeWidth": 1},
          "encoding": {"y": {"field": "r", "type": "quantitative", "scale": {"domain": [-17, 88], "nice": false, "zero": false}, "axis": {"values": [25, 50, 75], "format": ".2f"}}}
        },
        {
          "data": {"values": [{"t": "2020-03-29T18:28Z", "t2": "2020-03-29T23:39Z", "p": 18.9, "p2": 48.2}], "format": {"parse": {"t": "date", "t2": "date"}}},
          "mark": {"type": "rule", "color": "#f2e43a", "strokeWidth": 1.5},
          "encoding": {
            "x2": {"field": "t2"},
            "y": {"field": "p", "type": "quantitative", "scale": {"domain": [-17, 88], "nice": false, "zero": false}, "axis": {"values": [25, 50, 75], "format": ".2f"}},
            "y2": {"field": "p2"}
          }
        },
        {
          "data": {"values": [{"t": "2020-03-29T20:31Z", "p": 64.6, "txt": "huge divergence on rsi"}], "format": {"parse": {"t": "date"}}},
          "mark": {"type": "text", "color": "#e04a3f", "fontSize": 13.5, "align": "left", "baseline": "middle"},
          "encoding": {
            "y": {"field": "p", "type": "quantitative", "scale": {"domain": [-17, 88], "nice": false, "zero": false}, "axis": {"values": [25, 50, 75], "format": ".2f"}},
            "text": {"field": "txt"}
          }
        },
        {
          "data": {"values": [{"t": "2020-03-28T13:11Z", "p": 77.6, "txt": "BID"}], "format": {"parse": {"t": "date"}}},
          "mark": {"type": "text", "color": "#b2b5be", "fontSize": 8, "align": "left", "baseline": "middle"},
          "encoding": {
            "y": {"field": "p", "type": "quantitative", "scale": {"domain": [-17, 88], "nice": false, "zero": false}, "axis": {"values": [25, 50, 75], "format": ".2f"}},
            "text": {"field": "txt"}
          }
        }
      ]
    }
  ]
}
